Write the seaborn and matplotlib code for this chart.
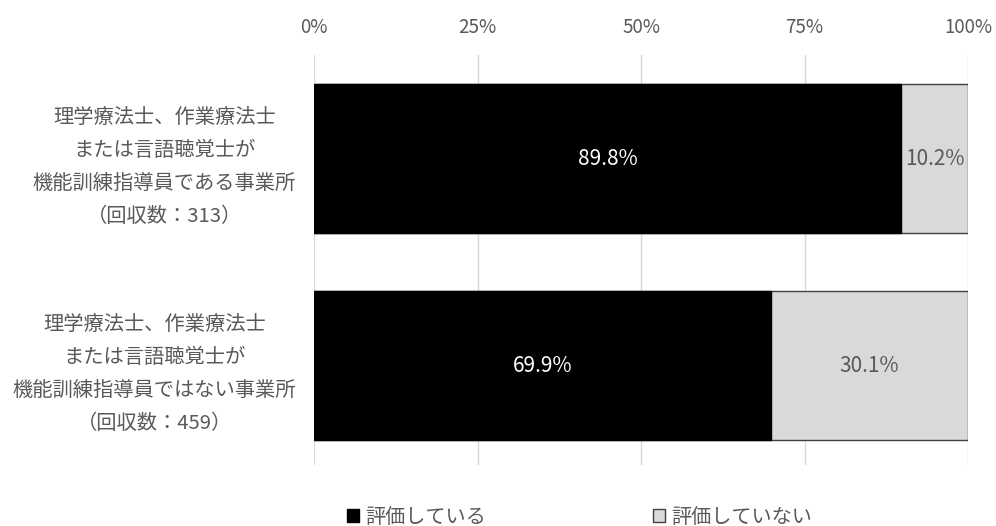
import matplotlib
matplotlib.use("Agg")
import matplotlib.pyplot as plt
from matplotlib.patches import Patch
import seaborn as sns
import pandas as pd

categories = [
    "理学療法士、作業療法士\nまたは言語聴覚士が\n機能訓練指導員である事業所\n（回収数：313）",
    "理学療法士、作業療法士\nまたは言語聴覚士が\n機能訓練指導員ではない事業所\n（回収数：459）",
]
rated = [89.8, 69.9]
not_rated = [10.2, 30.1]
series_names = ["評価している", "評価していない"]
tick_values = [0, 25, 50, 75, 100]
tick_labels = ["0%", "25%", "50%", "75%", "100%"]

sns.set_theme(style="white")
plt.rcParams["font.family"] = ["Noto Sans CJK JP", "DejaVu Sans"]

TEXT = "#595959"
BLACK = "#000000"
GRAY = "#d9d9d9"

df = pd.DataFrame({
    "category": categories,
    "rated": rated,
    "total": [a + b for a, b in zip(rated, not_rated)],
})

fig = plt.figure(figsize=(9.96, 5.26), dpi=100)
ax = fig.add_axes([314 / 996, 1 - 465 / 526, (968 - 314) / 996, 410 / 526])

# stacked bars: full length in gray, then the "rated" part in black on top
sns.barplot(data=df, y="category", x="total", orient="h", color=GRAY,
            edgecolor="#404040", linewidth=1.0, width=0.718, ax=ax, zorder=2)
sns.barplot(data=df, y="category", x="rated", orient="h", color=BLACK,
            edgecolor=BLACK, linewidth=1.0, width=0.718, ax=ax, zorder=3)
for p in ax.patches:
    p.set_alpha(1)

for i, (a, b) in enumerate(zip(rated, not_rated)):
    ax.text(a / 2, i, f"{a:.1f}%", ha="center", va="center",
            color="white", fontsize=15, zorder=4)
    ax.text(a + b / 2, i, f"{b:.1f}%", ha="center", va="center",
            color=TEXT, fontsize=15, zorder=4)

ax.set_xlim(0, 100)
ax.set_ylim(1.48, -0.5)
ax.set_xticks(tick_values)
ax.set_xticklabels(tick_labels)
ax.xaxis.tick_top()
ax.tick_params(axis="x", length=0, pad=12, labelsize=13.5, labelcolor=TEXT)
ax.tick_params(axis="y", length=0, pad=13, labelsize=14.6, labelcolor=TEXT)
for lbl in ax.get_yticklabels():
    lbl.set_multialignment("center")
    lbl.set_linespacing(1.76)
ax.set_xlabel("")
ax.set_ylabel("")
ax.grid(axis="x", color="#d9d9d9", linewidth=1.0, zorder=0)
ax.set_axisbelow(True)
for s in ax.spines.values():
    s.set_visible(False)

handles = [
    Patch(facecolor=BLACK, edgecolor=BLACK, label=series_names[0]),
    Patch(facecolor=GRAY, edgecolor="#404040", label=series_names[1]),
]
leg = fig.legend(handles=handles, loc="center left", bbox_to_anchor=(347 / 996, 0.017),
                 ncol=2, frameon=False, fontsize=14.5, handlelength=0.6,
                 handleheight=0.6, handletextpad=0.3, columnspacing=8.3,
                 borderpad=0, borderaxespad=0)
for t in leg.get_texts():
    t.set_color(TEXT)

fig.savefig("out.png", dpi=100)
